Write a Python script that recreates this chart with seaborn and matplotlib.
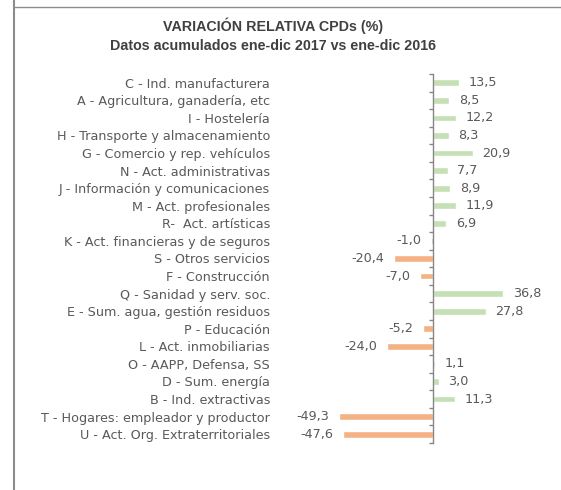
import matplotlib
matplotlib.use('Agg')
import matplotlib.pyplot as plt
from matplotlib.lines import Line2D
from matplotlib.ticker import FixedLocator
import seaborn as sns
import pandas as pd
import numpy as np

categorias = [
    'C - Ind. manufacturera',
    'A - Agricultura, ganadería, etc',
    'I - Hostelería',
    'H - Transporte y almacenamiento',
    'G - Comercio y rep. vehículos',
    'N - Act. administrativas',
    'J - Información y comunicaciones',
    'M - Act. profesionales',
    'R-  Act. artísticas',
    'K - Act. financieras y de seguros',
    'S - Otros servicios',
    'F - Construcción',
    'Q - Sanidad y serv. soc.',
    'E - Sum. agua, gestión residuos',
    'P - Educación',
    'L - Act. inmobiliarias',
    'O - AAPP, Defensa, SS',
    'D - Sum. energía',
    'B - Ind. extractivas',
    'T - Hogares: empleador y productor',
    'U - Act. Org. Extraterritoriales',
]
variacion = [13.5, 8.5, 12.2, 8.3, 20.9, 7.7, 8.9, 11.9, 6.9, -1.0, -20.4,
             -7.0, 36.8, 27.8, -5.2, -24.0, 1.1, 3.0, 11.3, -49.3, -47.6]

df = pd.DataFrame({'cat': categorias, 'val': variacion})
df['signo'] = np.where(df['val'] >= 0, 'pos', 'neg')

sns.set_style('white')
plt.rcParams['font.family'] = ['DejaVu Sans']

fig = plt.figure(figsize=(5.61, 4.90), dpi=100)
ax = fig.add_axes([270 / 561, 1 - 443 / 490, 275 / 561, 369 / 490])

sns.barplot(data=df, x='val', y='cat', hue='signo',
            palette={'pos': '#C5E0B4', 'neg': '#F4B183'}, saturation=1,
            width=0.38, dodge=False, legend=False, ax=ax)

for cont in ax.containers:
    labels = [f'{v:.1f}'.replace('.', ',') for v in cont.datavalues]
    ax.bar_label(cont, labels=labels, padding=7, fontsize=9.2, color='#595959')

ax.set_xlim(-85.8, 58.9)
ax.set_ylim(len(categorias) - 0.5, -0.5)
ax.set_xlabel('')
ax.set_ylabel('')
ax.set_xticks([])

for s in ['top', 'right', 'bottom']:
    ax.spines[s].set_visible(False)
ax.spines['left'].set_position(('data', 0))
ax.spines['left'].set_color('#868686')
ax.spines['left'].set_linewidth(1)

ax.yaxis.set_minor_locator(FixedLocator(np.arange(-0.5, len(categorias), 1)))
ax.tick_params(axis='y', which='major', length=0, pad=163 * 72 / 100,
               labelsize=9.2, labelcolor='#595959')
ax.tick_params(axis='y', which='minor', length=3, width=1, color='#868686',
               direction='out', left=True)

fig.text(273 / 561, 1 - 26 / 490, 'VARIACIÓN RELATIVA CPDs (%)', ha='center',
         va='center', fontsize=10.3, fontweight='bold', color='#404040',
         family='Liberation Sans')
fig.text(273 / 561, 1 - 46 / 490, 'Datos acumulados ene-dic 2017 vs ene-dic 2016',
         ha='center', va='center', fontsize=10.3, fontweight='bold', color='#404040',
         family='Liberation Sans')

# borde del gráfico
fig.add_artist(Line2D([14 / 561, 14 / 561], [0, 1], color='#8c8c8c', lw=1.5))
fig.add_artist(Line2D([14 / 561, 1], [1 - 7 / 490, 1 - 7 / 490], color='#8c8c8c', lw=1))

fig.savefig('out.png', dpi=100)
